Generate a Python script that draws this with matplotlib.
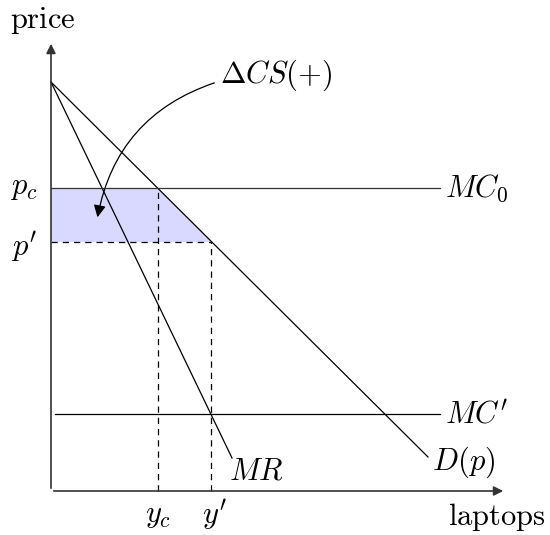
import matplotlib.pyplot as plt
from matplotlib.patches import FancyArrowPatch, Polygon

plt.rcParams['mathtext.fontset'] = 'cm'

# market values (1 unit = 100 px)
intercept = 4.09
demand_end = [3.77, 0.34]
mr_end = [1.81, 0.33]
p_c = 3.03
p_prime = 2.49
mc_prime = 0.77
y_c = 1.07
y_prime = 1.60
x_max = 4.55
y_max = 4.50
line_end = 3.89

fig = plt.figure(figsize=(5.5, 5.35), dpi=100)
ax = fig.add_axes([0, 0, 1, 1])
ax.set_xlim(-0.51, 4.99)
ax.set_ylim(-0.44, 4.91)
ax.axis('off')

# consumer surplus gain
cs = Polygon([[0, p_c], [y_c, p_c], [y_prime, p_prime], [0, p_prime]],
             closed=True, facecolor='#d9d9ff', edgecolor='none', zorder=1)
ax.add_patch(cs)

# axes
ax.annotate('', xy=(0, y_max), xytext=(0, 0),
            arrowprops=dict(arrowstyle='-|>', color='#333333', lw=1.2, mutation_scale=14))
ax.annotate('', xy=(x_max, 0), xytext=(0, 0),
            arrowprops=dict(arrowstyle='-|>', color='#333333', lw=1.2, mutation_scale=14))

# demand and marginal revenue
ax.plot([0, demand_end[0]], [intercept, demand_end[1]], color='black', lw=0.9)
ax.plot([0, mr_end[0]], [intercept, mr_end[1]], color='black', lw=0.9)

# marginal cost
ax.plot([0, line_end], [p_c, p_c], color='#333333', lw=0.9)
ax.plot([0.04, line_end], [mc_prime, mc_prime], color='black', lw=0.9)

# dashed guides
dash = dict(color='black', lw=0.9, ls=(0, (5, 4)))
ax.plot([0, y_prime], [p_prime, p_prime], **dash)
ax.plot([y_c, y_c], [0, p_c], **dash)
ax.plot([y_prime, y_prime], [0, p_prime], **dash)

fs = 22
ax.text(-0.41, 4.70, r'$\mathrm{price}$', fontsize=fs, ha='left', va='center')
ax.text(3.97, -0.26, r'$\mathrm{laptops}$', fontsize=fs, ha='left', va='center')
ax.text(-0.27, p_c, r'$p_c$', fontsize=fs, ha='center', va='center')
ax.text(-0.27, p_prime - 0.05, r"$p'$", fontsize=fs, ha='center', va='center')
ax.text(3.94, p_c, r'$MC_0$', fontsize=fs, ha='left', va='center')
ax.text(3.94, mc_prime, r"$MC'$", fontsize=fs, ha='left', va='center')
ax.text(3.81, 0.29, r'$D(p)$', fontsize=fs, ha='left', va='center')
ax.text(1.78, 0.20, r'$MR$', fontsize=fs, ha='left', va='center')
ax.text(y_c, -0.24, r'$y_c$', fontsize=fs, ha='center', va='center')
ax.text(y_prime + 0.03, -0.24, r"$y'$", fontsize=fs, ha='center', va='center')
ax.text(1.69, 4.16, r'$\Delta CS(+)$', fontsize=fs, ha='left', va='center')

arrow = FancyArrowPatch((1.66, 4.09), (0.46, 2.71),
                        connectionstyle='arc3,rad=0.3', arrowstyle='-|>',
                        mutation_scale=18, color='black', lw=0.9)
ax.add_patch(arrow)

fig.savefig('out.png', dpi=100)
